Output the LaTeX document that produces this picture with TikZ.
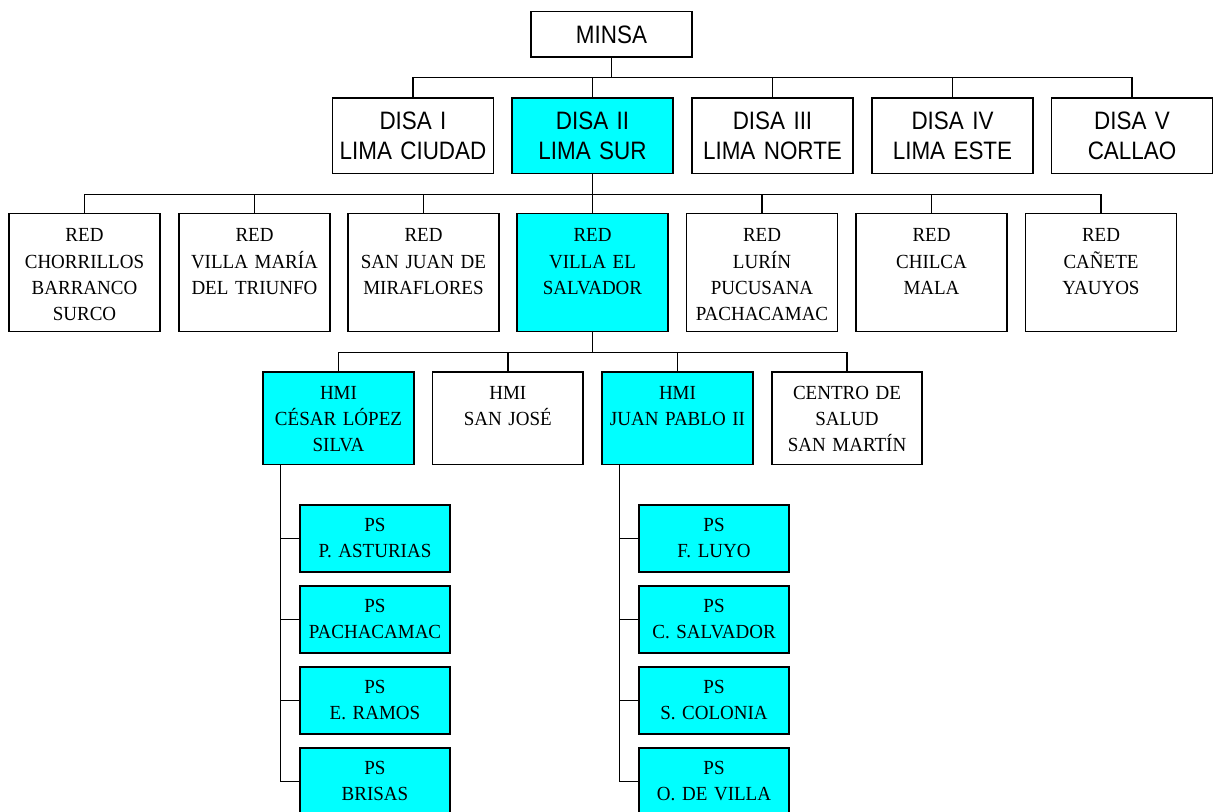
\documentclass[tikz,border=0pt]{standalone}
\usepackage{fontspec}
\newfontfamily\serifcaja[FakeStretch=0.95]{Liberation Serif}
\newfontfamily\sanscaja[FakeStretch=0.89]{Liberation Sans}
\definecolor{celeste}{RGB}{0,255,255}
\begin{document}
\begin{tikzpicture}[x=0.5pt, y=-0.5pt,
    caja/.style ={draw, line width=0.85pt, inner sep=0pt, align=center, anchor=north},
    minsabox/.style ={caja, font=\sanscaja\fontsize{12.6}{15}\selectfont, text width=80.5pt, text height=15.8pt, text depth=6.85pt},
    disabox/.style ={caja, font=\sanscaja\fontsize{12.6}{15}\selectfont, text width=80.5pt, text height=15.7pt, text depth=22.15pt},
    redbox/.style ={caja, font=\serifcaja\fontsize{10}{13.15}\selectfont, text width=75.5pt, text height=14.2pt, text depth=44.8pt},
    hmibox/.style ={caja, font=\serifcaja\fontsize{10}{13.15}\selectfont, text width=75.25pt, text height=13.7pt, text depth=32.65pt},
    psbox/.style ={caja, fill=celeste, font=\serifcaja\fontsize{10}{13.15}\selectfont, text width=75.25pt, text height=13.2pt, text depth=20.3pt},
    linea/.style ={line width=0.75pt}]
   \useasboundingbox (0,0) rectangle (1223,812);

   \node[minsabox] (M) at (611.5,10.7) {MINSA};

   \node[disabox] (D1) at (413,97) {DISA I\\LIMA CIUDAD};
   \node[disabox, fill=celeste] (D2) at (592.5,97) {DISA II\\LIMA SUR};
   \node[disabox] (D3) at (772.5,97) {DISA III\\LIMA NORTE};
   \node[disabox] (D4) at (952.5,97) {DISA IV\\LIMA ESTE};
   \node[disabox] (D5) at (1132,97) {DISA V\\CALLAO};

   \node[redbox] (R1) at (84.5,212.7) {RED\\CHORRILLOS\\BARRANCO\\SURCO};
   \node[redbox] (R2) at (254.5,212.7) {RED\\VILLA MARÍA\\DEL TRIUNFO};
   \node[redbox] (R3) at (423.5,212.7) {RED\\SAN JUAN DE\\MIRAFLORES};
   \node[redbox, fill=celeste] (R4) at (592.5,212.7) {RED\\VILLA EL\\SALVADOR};
   \node[redbox] (R5) at (762,212.7) {RED\\LURÍN\\PUCUSANA\\PACHACAMAC};
   \node[redbox] (R6) at (931.5,212.7) {RED\\CHILCA\\MALA};
   \node[redbox] (R7) at (1101,212.7) {RED\\CAÑETE\\YAUYOS};

   \node[hmibox, fill=celeste] (H1) at (338.5,371) {HMI\\CÉSAR LÓPEZ\\SILVA};
   \node[hmibox] (H2) at (507.8,371) {HMI\\SAN JOSÉ};
   \node[hmibox, fill=celeste] (H3) at (677.5,371) {HMI\\JUAN PABLO II};
   \node[hmibox] (H4) at (847,371) {CENTRO DE\\SALUD\\SAN MARTÍN};

   \node[psbox] (P1) at (375,504) {PS\\P. ASTURIAS};
   \node[psbox] (P2) at (375,585) {PS\\PACHACAMAC};
   \node[psbox] (P3) at (375,666) {PS\\E. RAMOS};
   \node[psbox] (P4) at (375,747) {PS\\BRISAS};
   \node[psbox] (P5) at (714,504) {PS\\F. LUYO};
   \node[psbox] (P6) at (714,585) {PS\\C. SALVADOR};
   \node[psbox] (P7) at (714,666) {PS\\S. COLONIA};
   \node[psbox] (P8) at (714,747) {PS\\O. DE VILLA};

   \foreach \n in {1,...,5}
     \draw[linea] (M.south) -- ++(0,20) -| (D\n.north);
   \foreach \n in {1,...,7}
     \draw[linea] (D2.south) -- ++(0,20) -| (R\n.north);
   \foreach \n in {1,...,4}
     \draw[linea] (R4.south) -- ++(0,20) -| (H\n.north);
   \foreach \n in {1,...,4}
     \draw[linea] ([xshift=9pt]H1.south west) |- (P\n.west);
   \foreach \n in {5,...,8}
     \draw[linea] ([xshift=9pt]H3.south west) |- (P\n.west);
\end{tikzpicture}
\end{document}
